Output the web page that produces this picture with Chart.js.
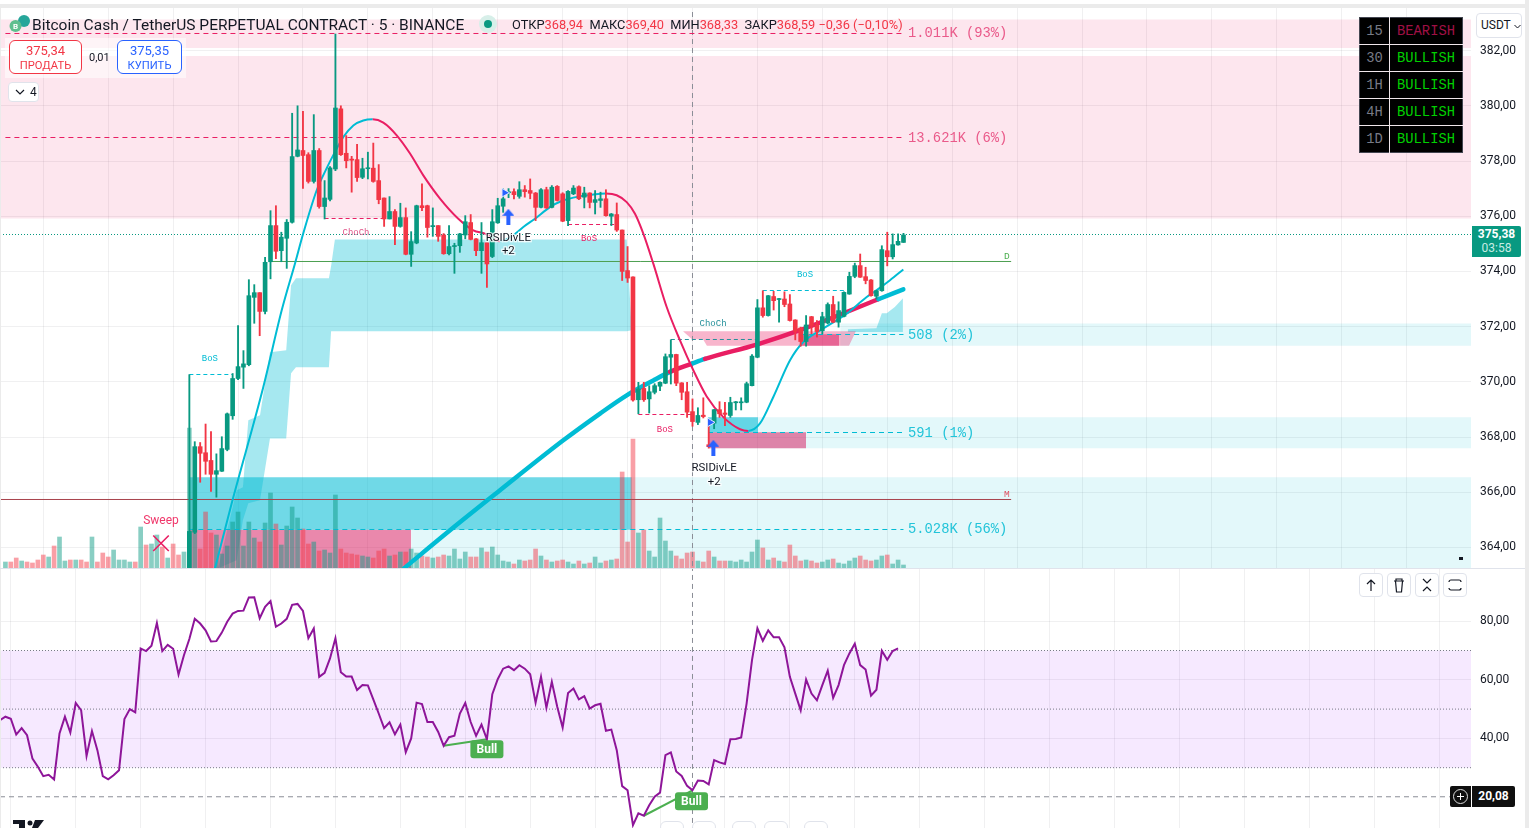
<!DOCTYPE html>
<html>
<head>
<meta charset="utf-8">
<title>BCHUSDT.P</title>
<script src="https://cdn.jsdelivr.net/npm/chart.js@4"></script>
<style>
  html, body { margin: 0; background: #fff; overflow: hidden; width: 1531px; height: 828px; font-family: Roboto, sans-serif; color: #131722; }
  canvas { position: absolute; left: 0; }
  #priceChart { top: 8px; }
  #rsiChart { top: 568px; }
  .abs { position: absolute; white-space: nowrap; }
  .btn { position: absolute; background: #fff; border: 1px solid #e0e3eb; border-radius: 4px; box-sizing: border-box; }
  .trade { position: absolute; top: 40px; height: 34px; background: #fff; border-radius: 6px; box-sizing: border-box; text-align: center; font-size: 11.2px; line-height: 14px; padding-top: 3px; }
  .red { color: #f23645; }
  #mtf { position: absolute; left: 1359px; top: 17px; border-collapse: collapse; background: #000; border: 1px solid #434651; font: 13.8px "Liberation Mono", monospace; }
  #mtf td { border: 1px solid #f0e6ea; height: 26px; padding: 0; text-align: center; }
  #mtf tr:first-child td { border-top: 0; }
  #mtf tr:last-child td { border-bottom: 0; }
  #mtf td:first-child { width: 29px; color: #787b86; border-left: 0; }
  #mtf td:last-child { width: 72px; color: #00d000; border-right: 0; }
</style>
</head>
<body>
<canvas id="priceChart" width="1525" height="560" style="width:1525px;height:560px"></canvas>
<canvas id="rsiChart" width="1525" height="260" style="width:1525px;height:260px"></canvas>

<div class="abs" style="left:0;top:4px;width:1525px;height:4px;background:#ebebeb"></div>
<div class="abs" style="left:0;top:4px;width:1px;height:824px;background:#ebebeb"></div>
<div class="abs" style="left:1525px;top:0;width:4px;height:828px;background:#ebebeb"></div>
<div class="abs" style="left:0;top:568px;width:1525px;height:1px;background:#e0e3eb"></div>

<!-- шапка -->
<svg class="abs" style="left:9px;top:14px" width="22" height="20">
  <circle cx="15" cy="7" r="6" fill="#26a69a"/><circle cx="6.5" cy="12" r="6" fill="#5fbf8f"/>
  <text x="6.5" y="15" font-size="8" font-weight="700" fill="#fff" text-anchor="middle">B</text>
</svg>
<div class="abs" style="left:32px;top:15px;font-size:15.5px;line-height:20px">Bitcoin Cash / TetherUS PERPETUAL CONTRACT · 5 · BINANCE</div>
<div class="abs" style="left:479px;top:15px;width:18px;height:18px;border-radius:9px;background:#d7efe9"></div>
<div class="abs" style="left:484px;top:20px;width:8px;height:8px;border-radius:4px;background:#089981"></div>
<div class="abs" style="left:512px;top:17px;font-size:12.8px;line-height:16px">ОТКР<span class="red">368,94</span>&nbsp; МАКС<span class="red">369,40</span>&nbsp; МИН<span class="red">368,33</span>&nbsp; ЗАКР<span class="red">368,59</span>&nbsp;<span class="red">−0,36 (−0,10%)</span></div>

<div class="abs" style="left:5px;top:38px;width:181px;height:40px;background:rgba(255,255,255,.55)"></div>
<div class="trade red" style="left:9px;width:73px;border:1px solid #f23645"><span style="font-size:13px">375,34</span><br>ПРОДАТЬ</div>
<div class="abs" style="left:89px;top:51px;font-size:11px;line-height:13px">0,01</div>
<div class="trade" style="left:117px;width:65px;border:1px solid #2962ff;color:#2962ff"><span style="font-size:13px">375,35</span><br>КУПИТЬ</div>
<div class="btn" style="left:8px;top:82px;width:31px;height:20px;font-size:12px;line-height:18px;padding-left:6px">
  <svg width="10" height="8" style="margin-right:5px"><path d="M1 2l4 4 4-4" fill="none" stroke="#131722" stroke-width="1.2"/></svg>4</div>

<!-- таблиця таймфреймів -->
<table id="mtf">
  <tr><td>15</td><td style="color:#a01045">BEARISH</td></tr>
  <tr><td>30</td><td>BULLISH</td></tr>
  <tr><td>1H</td><td>BULLISH</td></tr>
  <tr><td>4H</td><td>BULLISH</td></tr>
  <tr><td>1D</td><td>BULLISH</td></tr>
</table>

<div class="btn" style="left:1476px;top:13px;width:46px;height:25px;font-size:12px;line-height:23px;padding-left:4px">USDT <svg width="7" height="5"><path d="M.5 1l3 3 3-3" fill="none" stroke="#131722"/></svg></div>
<div class="abs" style="left:1472px;top:226px;width:49px;height:31px;background:#089981;border-radius:0 2px 2px 0;color:#fff;text-align:center;font-size:12px;line-height:14px;padding-top:1px;box-sizing:border-box"><b>375,38</b><br><span style="color:#c7ece4">03:58</span></div>
<div class="abs" style="left:1459px;top:557px;width:4px;height:3px;background:#131722"></div>

<!-- кнопки панелі -->
<div class="btn" style="left:1359px;top:573px;width:24px;height:24px"><svg width="22" height="22"><path d="M11 17V6M7 10l4-4 4 4" fill="none" stroke="#131722" stroke-width="1.2"/></svg></div>
<div class="btn" style="left:1387px;top:573px;width:24px;height:24px"><svg width="22" height="22"><path d="M6 7h10M8 7v-2h6v2M7.5 7l1 11h5l1-11" fill="none" stroke="#131722" stroke-width="1.2"/></svg></div>
<div class="btn" style="left:1415px;top:573px;width:24px;height:24px"><svg width="22" height="22"><path d="M7 5l4 4 4-4M7 17l4-4 4 4" fill="none" stroke="#131722" stroke-width="1.2"/></svg></div>
<div class="btn" style="left:1443px;top:573px;width:24px;height:24px"><svg width="22" height="22"><path d="M7 6h8a2 2 0 0 1 2 2M17 14a2 2 0 0 1-2 2H7a2 2 0 0 1-2-2M5 8a2 2 0 0 1 2-2" fill="none" stroke="#131722" stroke-width="1.2"/></svg></div>

<!-- перехрестя RSI -->
<div class="abs" style="left:1450px;top:786px;width:21px;height:21px;background:#0f0f0f;border-radius:2px 0 0 2px"><svg width="21" height="21"><circle cx="10.5" cy="10.5" r="7" fill="none" stroke="#ddd"/><path d="M10.5 7v7M7 10.5h7" stroke="#fff"/></svg></div>
<div class="abs" style="left:1472px;top:786px;width:43px;height:21px;background:#0f0f0f;border-radius:0 2px 2px 0;color:#fff;font-size:12px;font-weight:700;line-height:21px;text-align:center">20,08</div>

<!-- низ -->
<svg class="abs" style="left:13px;top:820px" width="32" height="8"><path d="M0 0h12v8H6V4H0zM22 0h9l-6 8h-6z" fill="#131722"/><circle cx="17" cy="3" r="2.5" fill="#131722"/></svg>
<div class="btn" style="left:660px;top:821px;width:24px;height:12px;border-radius:6px"></div>
<div class="btn" style="left:692px;top:821px;width:24px;height:12px;border-radius:6px"></div>
<div class="btn" style="left:732px;top:821px;width:24px;height:12px;border-radius:6px"></div>
<div class="btn" style="left:764px;top:821px;width:24px;height:12px;border-radius:6px"></div>
<div class="btn" style="left:804px;top:821px;width:24px;height:12px;border-radius:6px"></div>

<script>
// Дані графіка
const priceTicks = [364, 366, 368, 370, 372, 374, 376, 378, 380, 382];
const rsiTicks = [40, 60, 80];
const gridBars = [1, 13, 25, 37, 49, 61, 73, 85, 97, 109, 121, 133, 145, 157, 169, 181, 193, 205, 217, 229, 241, 253, 265];

const firstCandle = 34;
const candleOpen = [
  362.5,364.55,367.65,367.43,367.15,366.65,366.76,367.55,368.77,370.12,
  370.53,370.62,373.06,373.23,372.55,374.35,375.66,374.75,375.2,375.78,
  378.17,378.38,378.23,377.26,378.38,376.35,376.61,377.71,379.89,378.28,
  378.07,378.05,377.41,377.72,377.74,377.29,376.66,375.9,376.17,375.63,
  375.95,374.62,375.03,376.38,376.38,375.62,375.66,375.32,374.64,374.9,
  374.93,375.32,375.77,375.18,374.75,375.04,374.54,375.76,376.36,376.85,
  376.89,376.72,376.96,376.93,376.84,376.32,376.96,376.32,377.08,376.81,
  375.84,376.81,377.07,376.69,376.84,376.5,376.57,376.63,376,376.06,
  375.5,374.03,373.8,369.35,369.76,369.38,369.62,369.84,369.95,370.89,
  370.99,369.96,369.64,368.92,368.53,368.79,367.72,368.5,368.99,368.87,
  368.78,369.24,369.24,369.26,369.86,370.89,372.68,372.4,373.09,372.98,
  373,372.82,372.24,371.95,371.46,372.36,372.06,371.85,372.13,372.8,
  372.16,372.37,373.18,373.82,374.21,373.81,373.69,373.1,373.3,374.75,
  374.53,374.96,375.05
];
const candleClose = [
  364.58,367.65,367.41,367.12,366.65,366.78,367.58,368.84,370.12,370.55,
  370.65,373.12,373.23,372.55,374.33,375.66,374.73,375.24,375.78,378.16,
  378.4,378.2,377.26,378.38,376.35,376.66,377.75,379.92,378.23,378.01,
  378.03,377.4,377.72,377.74,377.26,376.6,375.9,376.17,375.63,375.95,
  374.62,375.08,376.38,376.31,375.59,375.66,375.27,374.64,374.9,374.93,
  375.36,375.8,375.16,374.75,375.04,374.27,375.8,376.38,376.63,376.88,
  376.78,376.96,376.89,376.83,376.32,376.96,376.3,377.05,376.57,375.82,
  376.9,377.02,376.63,376.84,376.5,376.6,376.63,376.02,376.08,375.5,
  374,373.76,369.34,369.74,369.35,369.64,369.86,369.98,370.91,370.99,
  369.95,369.62,368.9,368.56,368.78,368.74,367.65,368.99,368.84,368.82,
  369.25,369.27,369.27,369.93,370.93,372.68,372.4,373.12,372.94,373.01,
  372.8,372.22,371.83,371.46,372.06,372.04,371.82,372.36,372.8,372.16,
  372.58,373.24,373.82,374.21,373.79,373.67,373.12,373.3,374.79,374.53,
  374.97,375.09,375.32
];
const candleHigh = [
  370.26,367.83,367.8,368.47,368.2,367.39,368.01,368.87,370.3,372.04,
  371.13,373.7,373.52,373.23,374.51,376.2,376.38,375.42,375.88,379.73,
  380,379.8,378.3,379.68,378.45,377.29,377.8,382.6,380,378.92,
  378.17,378.6,378.1,378.32,378.65,377.87,376.66,376.71,376.24,376.47,
  376.3,375.44,376.4,377.17,376.4,376.3,375.66,375.37,375.66,375.02,
  375.38,376.02,376.06,375.19,375.77,375.04,376.24,376.65,376.99,377,
  376.99,377.25,377.11,377.35,376.86,377,377.05,377.11,377.11,376.85,
  376.93,377.11,377.1,377.05,376.85,376.93,376.87,376.96,376.1,376.48,
  375.5,374.9,373.8,369.98,369.98,369.86,369.93,370,371.01,371.52,
  371,369.97,369.98,369.38,369.06,369.42,368.65,369,369.28,369.26,
  369.44,369.29,369.42,369.99,370.99,372.98,373.3,373.13,373.28,373.02,
  373.26,373.16,372.25,371.98,372.4,372.37,372.22,372.52,372.86,373.1,
  372.9,373.26,373.97,374.3,374.63,374.15,373.7,373.31,374.93,375.42,
  375.36,375.36,375.38
];
const candleLow = [
  362.3,364.5,366.36,366.65,366.03,365.82,366.75,367.5,368.64,370.08,
  369.76,370.58,372.12,371.67,372.46,373.73,374.46,374.35,374.11,375.75,
  378.15,377.01,377.2,377.2,376.29,375.9,376.55,377.65,378.2,377.75,
  376.87,377.26,377.36,377.35,377.23,376.45,375.63,375.9,374.97,375.6,
  374.6,374.18,375,376.2,375.24,375.27,375.09,374.62,374.6,373.93,
  374.69,375.18,375.14,374.57,373.93,373.42,374.5,375.74,376.14,376.67,
  376.63,376.65,376.69,376.63,375.84,376.3,376.28,376.3,376.55,375.8,
  375.66,376.78,376.6,376.3,376.3,376.08,376.32,376,375.66,375.45,
  373.67,373.6,369.3,368.84,369.29,368.87,369.56,369.68,369.93,369.92,
  369.86,369.35,368.71,368.39,368.45,368.69,367.6,368.3,368.71,368.41,
  368.71,368.98,368.98,369.24,369.85,370.87,372.34,372.38,372.6,372.16,
  372.72,372.2,371.52,371.29,371.29,371.74,371.62,371.74,372.1,372.14,
  371.98,372.35,373.17,373.77,373.78,373.55,373.1,373,373.28,374.2,
  374.45,374.95,375.05
];

const volumes = [
  6,6,10,7,6,5,8,13,11,22,31,7,8,8,8,6,31,6,15,11,18,8,8,6,6,41,23,24,33,21,10,24,13,16,
  140,39,19,56,35,33,14,22,46,56,22,46,30,26,45,75,44,23,42,61,50,39,24,
  26,17,18,15,73,19,15,14,13,12,11,10,17,19,12,13,16,16,19,15,12,11,10,11,13,12,19,9,
  16,11,11,20,16,21,13,7,6,4,8,7,8,19,12,8,6,7,8,6,4,7,4,5,11,5,7,8,9,
  96,26,129,35,38,17,11,50,27,17,12,9,15,16,7,6,17,11,7,7,7,6,8,6,16,28,20,8,10,7,6,23,12,7,8,7,5,6,8,9,5,4,7,10,12,8,7,8,12,13,4,8,3
];
// до першої видимої свічки колір об'єму читається прямо з картинки
const earlyVolumeUp = [1,0,0,1,0,0,0,0,1,0,1,1,0,1,0,0,1,0,0,0,1,1,1,1,0,1,0,1,1,0,1,0,0,1];

const rsiValues = [
  46.2,47.4,46.7,41.3,43.5,41.1,33.1,30.3,27.1,27.6,26,41.7,47.4,42,52.1,49.6,34,42.5,36,27.1,26,27.4,29.1,46.6,50,48.9,
  70.7,69.8,71.6,79.4,69.8,71.9,70.6,61.8,68.4,73.9,80.8,79.2,76.9,73.1,73.2,76.1,79.8,82.6,83.5,83.6,88.1,88.2,81,84.9,86.9,
  78.1,79.2,80.8,85.6,85.9,83.5,74.2,77.5,61,62.4,67.3,74.2,62.6,61.1,61.1,56.5,58.2,58.1,53.3,48.5,43.5,45.5,41.4,44.7,35.3,40,
  52.2,51.7,45.6,45.6,42.2,37.5,40.4,40.9,48.5,52.1,45.6,40.9,44.7,39.7,55.1,60.2,63.8,64.6,63.3,65,63.8,61.9,52.2,61,50.5,59.3,
  50.8,43.7,55.5,57,53.3,54.4,50.2,51.3,51.8,42.6,43,36,23.7,22.3,10.4,14.4,13.6,17.2,20.1,21.5,34.3,35.2,28.7,27.2,23.8,22.3,
  25.6,25.5,24.3,32.6,31.8,31.3,39.7,39.8,40.3,51.9,66.7,77.6,73.3,76.9,74.5,74.5,71.1,61,55.3,49.6,60.1,55.3,53,58.2,63.1,53.8,
  58.2,65,69,72.3,65,63.5,54.6,56.6,69.9,66.8,69.8,70.7
];
const bullFromBar = [81, 118];
const bullToBar = [89, 127];
const bullFromRsi = [37.5, 13.6];
const bullToRsi = [39.7, 22.3];

// зони ліквідності: від бара, до бара, верх, низ
const zoneKind = ['pinkSoft', 'pinkSoft', 'cyanSoft', 'cyanSoft', 'cyanSoft', 'cyanSoft', 'cyanStrong', 'cyanStrong', 'pinkStrong', 'pinkStrong'];
const zoneFrom = [-1, -1, 154.3, 129.87, 115.8, 75, 33.9, 129.87, 33.9, 129.87];
const zoneTo = [270.9, 270.9, 270.9, 270.9, 270.9, 115.8, 115.8, 139.1, 75, 148];
const zoneTop = [383.13, 381.8, 372.11, 368.72, 366.54, 364.64, 366.54, 368.72, 364.64, 368.17];
const zoneBottom = [382.09, 375.92, 371.31, 367.59, 363.24, 363.24, 364.64, 368.17, 363.24, 367.59];
const wickZoneFrom = 146.9, wickZoneTo = 154.1, wickZoneTop = 371.72, wickZoneBottom = 371.31;

// хмари
const bigCloudBars = [39.3, 42.75, 43.9, 44.9, 47.06, 48.9, 51.9, 52.8, 53.7, 59.8, 60.2, 60.9, 114.84, 115.77];
const bigCloudUpper = [363.24, 366.07, 366.18, 368.61, 368.79, 371.07, 371.14, 373.5, 373.75, 373.75, 374.2, 375.16, 375.16, 371.87];
const bigCloudLower = [363.24, 363.53, 364.98, 365.6, 365.71, 367.95, 367.95, 370.31, 370.53, 370.53, 371.83, 371.83, 371.83, 371.87];
const smallCloudBars = [155.7, 161, 162, 162.9, 164.4, 165.9];
const smallCloudUpper = [371.9, 371.94, 372.48, 372.48, 372.71, 373.03];
const smallCloudLower = [371.8, 371.8, 371.8, 371.8, 371.8, 371.8];
const orderBlockBars = [125.25, 126.91, 128.94, 129.67, 155.94, 157.2];
const orderBlockUpper = [371.83, 371.83, 371.83, 371.83, 371.83, 371.83];
const orderBlockLower = [371.83, 371.54, 371.54, 371.31, 371.31, 371.83];

// тонка ковзна
const fastBars = [38.74,41.83,47.67,51.07,53.53,55.06,57.54,59.39,60.92,62.46,64.31,66.15,67.89,69.85,72.33,74.79,77.24,80.33,83.71,86.49,88.65,91.42,93.88,95.73,97.89,100.66,102.83,106.21,108.67,111.01,112.99,114.84,116.37,117.91,119.76,122.23,124.69,127.15,129.63,132.7,135.79,137.32,139.48,141.94,145.03,147.48,151.18,155.5,159.2,161.05,163.51,165.97];
const fastValues = [363.24,365.6,369.81,372.59,374.29,375.38,376.94,377.74,378.33,378.87,379.29,379.47,379.51,379.39,378.93,378.27,377.48,376.64,375.91,375.49,375.37,375.09,375.31,375.61,375.91,376.33,376.55,376.72,376.79,376.82,376.76,376.51,376.09,375.37,374.28,372.71,371.5,370.42,369.47,368.72,368.28,368.22,368.49,369.45,370.78,371.44,371.93,372.47,373.07,373.32,373.68,374.07];
const fastTurns = [67.89, 91.42, 111.01, 137.32];
// товста ковзна
const slowBars = [73.68,82.18,91.42,103.12,109.91,114.84,119.76,122.84,126.91,129.31,138.87,146.87,161.35,165.97];
const slowValues = [363.24,364.62,366.07,367.88,368.85,369.51,370.05,370.36,370.66,370.83,371.35,371.87,372.99,373.35];
const slowTurns = [122.84, 126.91, 129.31, 161.35];

// пунктирні рівні: BoS, ChoCh і ліквідність
const levelKind = ['cyan','pink','pink','pink','teal','cyan','pink','pink','cyan','cyan','cyan'];
const levelFrom = [34, 59, 104, 117, 123, 140, 0, 0, 146.9, 129.87, 34];
const levelTo = [42, 70, 113, 127, 139, 155, 166, 166, 166, 166, 166];
const levelPrice = [370.264, 375.917, 375.699, 368.815, 371.533, 373.308, 382.62, 378.851, 371.714, 368.163, 364.649];

const dailyOpen = 374.359, monthlyOpen = 365.736, lastPrice = 375.337, crosshairBar = 127, crosshairRsi = 20.08;
const sweepBar = 28.76, sweepPrice = 364.15;
const arrowBars = [92.96, 130.85], arrowPrices = [375.98, 367.61];
const flagBars = [92.25, 130.24], flagPrices = [376.85, 368.53];

const green = '#089981', red = '#f23645', cyan = '#00bcd4', pink = '#e91e63';
const zoneColors = {
  pinkSoft: 'rgba(233,30,99,.11)', pinkStrong: 'rgba(215,30,99,.53)',
  cyanSoft: 'rgba(0,188,212,.11)', cyanStrong: 'rgba(0,188,212,.56)'
};
const levelColors = { cyan: cyan, pink: pink, teal: '#26909a' };
const gridColor = 'rgba(42,46,57,.07)';

// підписи, прив'язані до бара і ціни
const mono = '"Liberation Mono", monospace';
const priceNotes = [
  ['BoS', 37.8, 370.85, cyan, '9px ' + mono, 'center'],
  ['ChoCh', 64.8, 375.42, '#e0578a', '9px ' + mono, 'center'],
  ['BoS', 107.87, 375.2, pink, '9px ' + mono, 'center'],
  ['BoS', 121.9, 368.28, pink, '9px ' + mono, 'center'],
  ['ChoCh', 130.8, 372.12, '#26909a', '9px ' + mono, 'center'],
  ['BoS', 147.8, 373.9, cyan, '9px ' + mono, 'center'],
  ['1.011K (93%)', 166.84, 382.62, '#ea5a8a', '13.8px ' + mono, 'left'],
  ['13.621K (6%)', 166.84, 378.82, '#ea5a8a', '13.8px ' + mono, 'left'],
  ['508 (2%)', 166.84, 371.68, '#22c4d9', '13.8px ' + mono, 'left'],
  ['591 (1%)', 166.84, 368.13, '#22c4d9', '13.8px ' + mono, 'left'],
  ['5.028K (56%)', 166.84, 364.64, '#22c4d9', '13.8px ' + mono, 'left'],
  ['D', 185.1, 374.55, '#4caf50', '9.5px ' + mono, 'center'],
  ['M', 185.1, 365.92, '#e04f5f', '9.5px ' + mono, 'center'],
  ['Sweep', 28.76, 364.95, '#f0386b', '12px Roboto', 'center']
];
const haloNotes = [
  ['RSIDivLE', 92.96, 375.22], ['+2', 92.96, 374.72],
  ['RSIDivLE', 131, 366.87], ['+2', 131, 366.36]
];

function line(bars, values, color, width, extra) {
  return Object.assign({
    type: 'line',
    data: bars.map((b, i) => ({ x: b, y: values[i] })),
    borderColor: color, borderWidth: width, pointRadius: 0, fill: false, yAxisID: 'y'
  }, extra);
}

function band(bars, upper, lower, color, order) {
  return [
    line(bars, upper, 'transparent', 0, { fill: '+1', backgroundColor: color, order: order }),
    line(bars, lower, 'transparent', 0, { order: order })
  ];
}

function turnColor(turns, startColor, otherColor) {
  return ctx => {
    const x = ctx.p0.parsed.x;
    const passed = turns.filter(t => t <= x).length;
    return passed % 2 === 0 ? startColor : otherColor;
  };
}

const candleBars = candleOpen.map((_, i) => i + firstCandle);
const candleColors = candleOpen.map((o, i) => candleClose[i] >= o ? green : red);

const volumeColors = volumes.map((_, i) => {
  const up = i < firstCandle ? earlyVolumeUp[i] : candleClose[i - firstCandle] >= candleOpen[i - firstCandle];
  return up ? 'rgba(8,153,129,.48)' : 'rgba(242,54,69,.48)';
});

const datasets = [];
zoneKind.forEach((kind, i) => {
  const soft = kind.endsWith('Soft');
  datasets.push(line([zoneFrom[i], zoneTo[i]], [zoneTop[i], zoneTop[i]], 'transparent', 0, {
    fill: { value: zoneBottom[i] }, backgroundColor: zoneColors[kind], order: soft ? 60 : 50
  }));
});
datasets.push(...band(bigCloudBars, bigCloudUpper, bigCloudLower, 'rgba(0,188,212,.35)', 55));
datasets.push(...band(smallCloudBars, smallCloudUpper, smallCloudLower, 'rgba(0,188,212,.35)', 55));
datasets.push(...band(orderBlockBars, orderBlockUpper, orderBlockLower, 'rgba(233,30,99,.33)', 52));
datasets.push(line([wickZoneFrom, wickZoneTo], [wickZoneTop, wickZoneTop], 'transparent', 0, {
  fill: { value: wickZoneBottom }, backgroundColor: zoneColors.pinkStrong, order: 50
}));

datasets.push({
  type: 'bar', yAxisID: 'yVol', order: 40, grouped: false, barThickness: 4,
  data: volumes.map((v, i) => ({ x: i, y: v })), backgroundColor: volumeColors
});

levelKind.forEach((kind, i) => {
  datasets.push(line([levelFrom[i], levelTo[i]], [levelPrice[i], levelPrice[i]], levelColors[kind], 1, {
    borderDash: i < 6 ? [4, 3] : [5, 4], order: 30
  }));
});
datasets.push(line([49, 185.9], [dailyOpen, dailyOpen], '#4c9f50', 1, { order: 30 }));
datasets.push(line([-1, 185.9], [monthlyOpen, monthlyOpen], '#a8434c', 1, { order: 30 }));
datasets.push(line([-1, 270.9], [lastPrice, lastPrice], green, 1, { borderDash: [1, 2], order: 30 }));
datasets.push(line([crosshairBar, crosshairBar], [363, 384], '#8a8d96', 1, { borderDash: [5, 4], order: 30 }));

// ковзні йдуть під свічками
datasets.push(line(slowBars, slowValues, cyan, 4.5, {
  order: 26, cubicInterpolationMode: 'monotone', borderCapStyle: 'round',
  segment: { borderColor: turnColor(slowTurns, cyan, pink) }
}));
datasets.push(line(fastBars, fastValues, cyan, 2, {
  order: 25, cubicInterpolationMode: 'monotone',
  segment: { borderColor: turnColor(fastTurns, cyan, pink) }
}));

datasets.push({
  type: 'bar', yAxisID: 'y', order: 21, grouped: false, barThickness: 1.2, minBarLength: 1,
  data: candleHigh.map((h, i) => ({ x: candleBars[i], y: [candleLow[i], h] })), backgroundColor: candleColors
});
datasets.push({
  type: 'bar', yAxisID: 'y', order: 20, grouped: false, barThickness: 4, minBarLength: 1,
  data: candleOpen.map((o, i) => ({ x: candleBars[i], y: [o, candleClose[i]] })), backgroundColor: candleColors
});

// значки
function arrowSprite() {
  const c = document.createElement('canvas');
  c.width = 12; c.height = 16;
  const g = c.getContext('2d');
  g.fillStyle = '#2962ff';
  g.beginPath();
  g.moveTo(6, 0); g.lineTo(12, 7); g.lineTo(8, 7); g.lineTo(8, 16); g.lineTo(4, 16); g.lineTo(4, 7); g.lineTo(0, 7);
  g.closePath(); g.fill();
  return c;
}
datasets.push({
  type: 'scatter', yAxisID: 'y', order: 5, data: arrowBars.map((b, i) => ({ x: b, y: arrowPrices[i] })),
  pointStyle: arrowSprite(), pointRadius: 8
});
datasets.push({
  type: 'scatter', yAxisID: 'y', order: 5, data: flagBars.map((b, i) => ({ x: b, y: flagPrices[i] })),
  pointStyle: 'triangle', rotation: 90, pointRadius: 5, backgroundColor: '#2962ff', borderColor: '#dfe6ff', borderWidth: 1
});
datasets.push({
  type: 'scatter', yAxisID: 'y', order: 5, data: [{ x: sweepBar, y: sweepPrice }],
  pointStyle: 'crossRot', pointRadius: 11, borderColor: '#e91e63', borderWidth: 1.6
});

const priceNotesPlugin = {
  id: 'priceNotes',
  afterDatasetsDraw(chart) {
    const { ctx, scales: { x, y } } = chart;
    ctx.save();
    ctx.textBaseline = 'middle';
    priceNotes.forEach(([text, bar, price, color, font, align]) => {
      ctx.font = font; ctx.fillStyle = color; ctx.textAlign = align;
      ctx.fillText(text, x.getPixelForValue(bar), y.getPixelForValue(price));
    });
    ctx.font = '11.4px Roboto'; ctx.textAlign = 'center';
    ctx.lineWidth = 2.5; ctx.strokeStyle = 'rgba(255,255,255,.8)'; ctx.fillStyle = '#131722';
    haloNotes.forEach(([text, bar, price]) => {
      const px = x.getPixelForValue(bar), py = y.getPixelForValue(price);
      ctx.strokeText(text, px, py);
      ctx.fillText(text, px, py);
    });
    ctx.restore();
  }
};

const bullLabelsPlugin = {
  id: 'bullLabels',
  afterDatasetsDraw(chart) {
    const { ctx, scales: { x, y } } = chart;
    ctx.save();
    bullToBar.forEach((bar, i) => {
      const px = x.getPixelForValue(bar) + (i === 0 ? 0 : -1);
      const py = y.getPixelForValue(bullToRsi[i]) + (i === 0 ? 10 : 11);
      ctx.fillStyle = '#4caf50';
      ctx.beginPath(); ctx.roundRect(px - 16.5, py - 9, 33, 18, 3); ctx.fill();
      ctx.fillStyle = '#fff'; ctx.font = 'bold 12px Roboto'; ctx.textAlign = 'center'; ctx.textBaseline = 'middle';
      ctx.fillText('Bull', px, py + 0.5);
    });
    ctx.restore();
  }
};

function baseOptions(yScales) {
  return {
    responsive: false, animation: false, events: [],
    layout: { padding: 0, autoPadding: false },
    plugins: { legend: { display: false }, tooltip: { enabled: false }, title: { display: false } },
    scales: Object.assign({
      x: {
        type: 'linear', min: -1, max: 270.9, offset: false,
        grid: { color: gridColor, drawTicks: false }, border: { display: false },
        ticks: { display: false },
        afterBuildTicks: s => { s.ticks = gridBars.map(v => ({ value: v })); },
        afterFit: s => { s.height = 0; s.paddingLeft = 0; s.paddingRight = 0; }
      }
    }, yScales)
  };
}

function rightAxis(min, max, tickList) {
  return {
    position: 'right', min: min, max: max,
    grid: { color: gridColor, drawTicks: false }, border: { display: false },
    ticks: {
      color: '#131722', font: { family: 'Roboto', size: 12 }, padding: 9, autoSkip: false,
      callback: v => v.toFixed(2).replace('.', ',')
    },
    afterBuildTicks: s => { s.ticks = tickList.map(v => ({ value: v })); },
    afterFit: s => { s.width = 54; s.paddingTop = 0; s.paddingBottom = 0; }
  };
}

new Chart(document.getElementById('priceChart'), {
  data: { datasets: datasets },
  options: baseOptions({
    y: rightAxis(363.2537, 383.5435, priceTicks),
    yVol: { display: false, min: 0, max: 560 }
  }),
  plugins: [priceNotesPlugin]
});

const rsiDatasets = [
  line([-1, 270.9], [70, 70], 'transparent', 0, { fill: { value: 30 }, backgroundColor: 'rgba(170,40,255,.1)', order: 10 }),
  line([-1, 270.9], [70, 70], '#787b86', 1, { borderDash: [1, 2], order: 9 }),
  line([-1, 270.9], [50, 50], '#787b86', 1, { borderDash: [1, 2], order: 9 }),
  line([-1, 270.9], [30, 30], '#787b86', 1, { borderDash: [1, 2], order: 9 }),
  line([-1, 267], [crosshairRsi, crosshairRsi], '#8a8d96', 1, { borderDash: [5, 4], order: 8 }),
  line([crosshairBar, crosshairBar], [5, 100], '#8a8d96', 1, { borderDash: [5, 4], order: 8 }),
  line(rsiValues.map((_, i) => i - 1), rsiValues, '#8e1599', 2, { order: 3 })
];
bullFromBar.forEach((bar, i) => {
  rsiDatasets.push(line([bar, bullToBar[i]], [bullFromRsi[i], bullToRsi[i]], '#4caf50', 2, { order: 4 }));
});

new Chart(document.getElementById('rsiChart'), {
  data: { datasets: rsiDatasets },
  options: baseOptions({ y: rightAxis(9.42, 98.157, rsiTicks) }),
  plugins: [bullLabelsPlugin]
});
</script>
</body>
</html>
